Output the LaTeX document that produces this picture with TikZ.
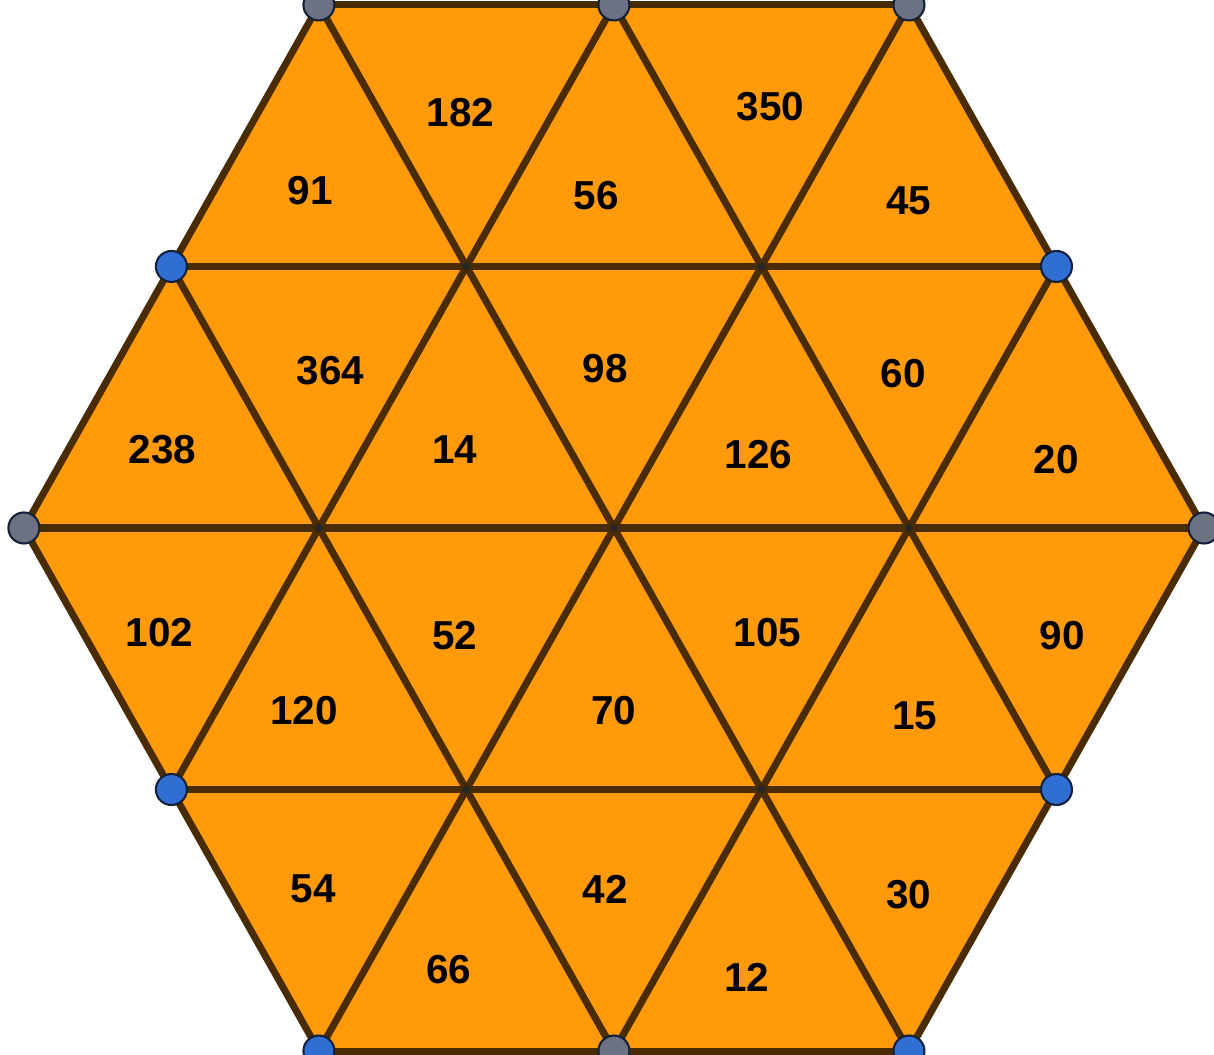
\documentclass[tikz,border=0pt]{standalone}
\usepackage{fontspec}
\setmainfont{Liberation Sans}
\usepackage{tikz}
\usetikzlibrary{positioning,calc}
\usepackage{xcolor}
\definecolor{hexorange}{HTML}{FF9A0A}
\definecolor{edge}{HTML}{4A2C04}
\definecolor{dotgrey}{HTML}{6C7282}
\definecolor{dotblue}{HTML}{2F6FD4}
\definecolor{rim}{HTML}{15203A}

\begin{document}
\begin{tikzpicture}[x=2.95cm, y=2.615cm, font=\bfseries\fontsize{11.5}{12}\selectfont,
  seg/.style={draw=edge, line width=2pt},
  gdot/.style={circle, draw=rim, line width=0.6pt, fill=dotgrey, minimum size=0.31cm, inner sep=0pt},
  bdot/.style={circle, draw=rim, line width=0.6pt, fill=dotblue, minimum size=0.31cm, inner sep=0pt},
  knot/.style={circle, fill=black!85, minimum size=0.08cm, inner sep=0pt},
  num/.style={text=black, inner sep=1pt}]
  \useasboundingbox (-2.081,-2.015) rectangle (2.034,2.019);
  % lattice points, rows a (top) to e (bottom)
  \foreach \x [count=\k] in {-1,0,1} {\coordinate (a\k) at (\x,2); \coordinate (e\k) at (\x,-2);}
  \foreach \x [count=\k] in {-1.5,-0.5,0.5,1.5} {\coordinate (b\k) at (\x,1); \coordinate (d\k) at (\x,-1);}
  \foreach \x [count=\k] in {-2,-1,0,1,2} {\coordinate (c\k) at (\x,0);}
  \fill[hexorange] (a1) -- (a3) -- (c5) -- (e3) -- (e1) -- (c1) -- cycle;
  % horizontal lines
  \draw[seg] (a1) -- (a3); \draw[seg] (b1) -- (b4); \draw[seg] (c1) -- (c5);
  \draw[seg] (d1) -- (d4); \draw[seg] (e1) -- (e3);
  % rising lines
  \draw[seg] (c1) -- (a1); \draw[seg] (d1) -- (a2); \draw[seg] (e1) -- (a3);
  \draw[seg] (e2) -- (b4); \draw[seg] (e3) -- (c5);
  % falling lines
  \draw[seg] (c1) -- (e1); \draw[seg] (b1) -- (e2); \draw[seg] (a1) -- (e3);
  \draw[seg] (a2) -- (d4); \draw[seg] (a3) -- (c5);
  % crossings and corner points
  \foreach \p in {b2,b3,c2,c3,c4,d2,d3} \node[knot] at (\p) {};
  \foreach \p in {a1,a2,a3,c1,c5,e2} \node[gdot] (g\p) at (\p) {};
  \foreach \p in {b1,b4,d1,d4,e1,e3} \node[bdot] (u\p) at (\p) {};
  % triangle numbers
  \node[num] (n91) at (-1.03,1.29) {91};
  \node[num] (n182) at (-0.52,1.59) {182};
  \node[num] (n56) at (-0.06,1.27) {56};
  \node[num] (n350) at (0.53,1.61) {350};
  \node[num] (n45) at (1.00,1.25) {45};
  \node[num] (n238) at (-1.53,0.30) {238};
  \node[num] (n364) at (-0.96,0.60) {364};
  \node[num] (n14) at (-0.54,0.30) {14};
  \node[num] (n98) at (-0.03,0.61) {98};
  \node[num] (n126) at (0.49,0.28) {126};
  \node[num] (n60) at (0.98,0.59) {60};
  \node[num] (n20) at (1.50,0.26) {20};
  \node[num] (n102) at (-1.54,-0.40) {102};
  \node[num] (n120) at (-1.05,-0.70) {120};
  \node[num] (n52) at (-0.54,-0.41) {52};
  \node[num] (n70) at (0.00,-0.70) {70};
  \node[num] (n105) at (0.52,-0.40) {105};
  \node[num] (n15) at (1.02,-0.72) {15};
  \node[num] (n90) at (1.52,-0.41) {90};
  \node[num] (n54) at (-1.02,-1.38) {54};
  \node[num] (n66) at (-0.56,-1.69) {66};
  \node[num] (n42) at (-0.03,-1.38) {42};
  \node[num] (n12) at (0.45,-1.72) {12};
  \node[num] (n30) at (1.00,-1.40) {30};
\end{tikzpicture}
\end{document}
